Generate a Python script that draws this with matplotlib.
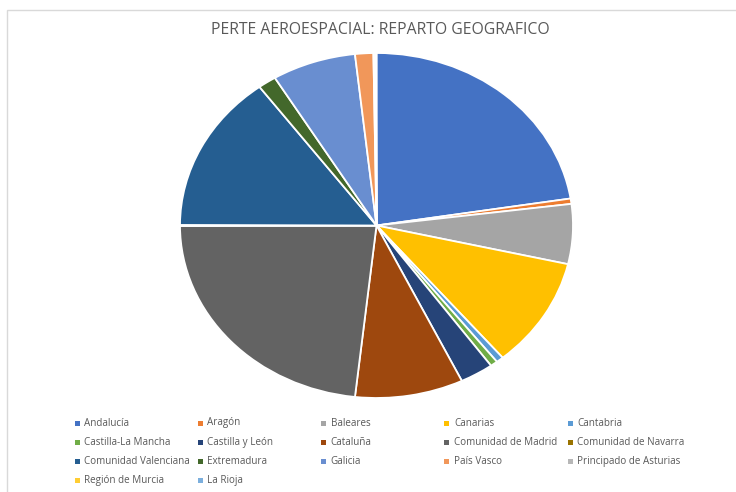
import matplotlib
matplotlib.use("Agg")
import matplotlib.pyplot as plt
from matplotlib.patches import Rectangle

regions = ["Andalucía", "Aragón", "Baleares", "Canarias", "Cantabria",
           "Castilla-La Mancha", "Castilla y León", "Cataluña", "Comunidad de Madrid",
           "Comunidad de Navarra", "Comunidad Valenciana", "Extremadura", "Galicia",
           "País Vasco", "Principado de Asturias", "Región de Murcia", "La Rioja"]
shares = [22.5, 0.5, 5.6, 10.3, 0.6, 0.6, 2.75, 8.9, 23.2, 0.1, 14.8, 1.5, 6.9,
          1.5, 0.15, 0.05, 0.05]
colors = ["#4472C4", "#ED7D31", "#A5A5A5", "#FFC000", "#5B9BD5", "#70AD47",
          "#264478", "#9E480E", "#636363", "#997300", "#255E91", "#43682B",
          "#698ED0", "#F1975A", "#B7B7B7", "#FFCD33", "#7CAFDD"]
title = "PERTE AEROESPACIAL: REPARTO GEOGRAFICO"

W, H = 736, 492
fig = plt.figure(figsize=(W / 100, H / 100), dpi=100)
fig.patch.set_facecolor("white")

# chart border
fig.patches.append(Rectangle((7 / W, -0.05), 1.2, 1 - 10 / H + 0.05,
                             transform=fig.transFigure, fill=False,
                             edgecolor="#D9D9D9", linewidth=1.0))

# the original picture is stretched horizontally, so the pie is an ellipse
cx, cy, rx, ry = 376.5, 225.5, 196.5, 172.5
ax = fig.add_axes([(cx - rx) / W, 1 - (cy + ry) / H, 2 * rx / W, 2 * ry / H])
ax.pie(shares, colors=colors, startangle=90, counterclock=False,
       wedgeprops=dict(edgecolor="white", linewidth=1.3))
ax.set_aspect("auto")
ax.set_xlim(-1, 1)
ax.set_ylim(-1, 1)
ax.axis("off")

fig.text(380 / W, 1 - 30 / H, title, ha="center", va="center",
         fontsize=11.3, color="#595959", family=["Open Sans", "DejaVu Sans"])

# legend, laid out in rows like the original
for i, (name, col) in enumerate(zip(regions, colors)):
    row, c = divmod(i, 5)
    x = 77 + c * 123.3
    y = 423 + row * 19.3
    fig.patches.append(Rectangle(((x - 2.5) / W, 1 - (y + 2.5) / H), 5 / W, 5 / H,
                                 transform=fig.transFigure, facecolor=col,
                                 edgecolor="none"))
    fig.text((x + 7) / W, 1 - y / H, name, ha="left", va="center",
             fontsize=7.1, color="#595959", family=["Open Sans", "DejaVu Sans"])

fig.savefig("out.png", dpi=100, facecolor="white")
